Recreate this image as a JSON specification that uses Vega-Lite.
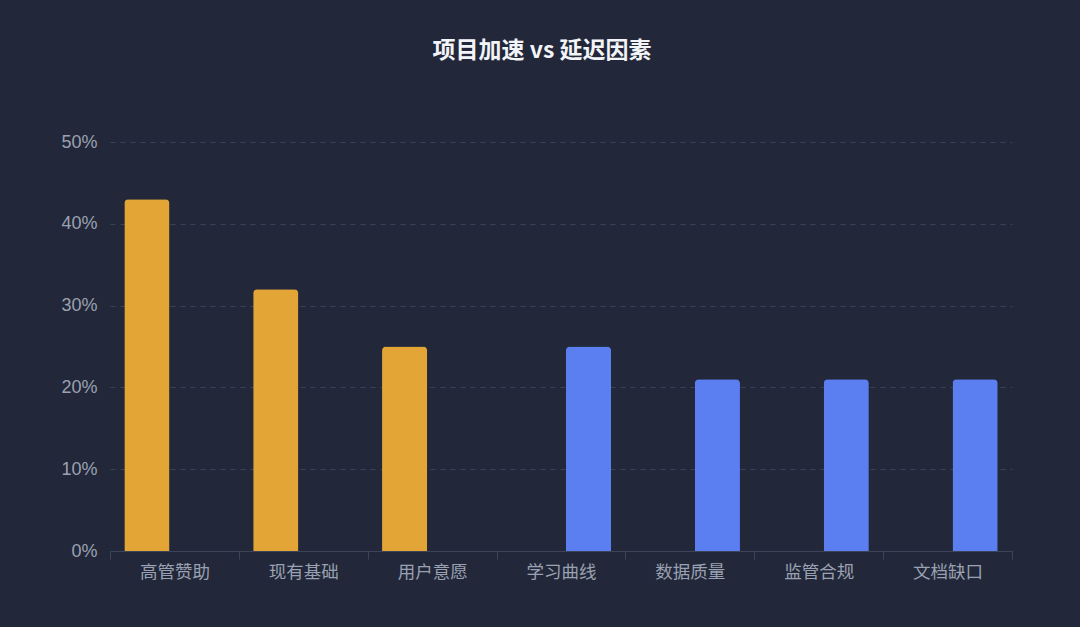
{
  "$schema": "https://vega.github.io/schema/vega-lite/v6.json",
  "width": 902,
  "height": 409,
  "autosize": "none",
  "padding": {"left": 110, "top": 142, "right": 68, "bottom": 76},
  "background": "#222839",
  "title": {
    "text": "项目加速 vs 延迟因素",
    "font": "Noto Sans CJK SC",
    "fontSize": 23,
    "fontWeight": "bold",
    "color": "#f2f4f8",
    "anchor": "middle",
    "dx": -19,
    "offset": 70
  },
  "data": {
    "values": [
      {"factor": "高管赞助", "type": "加速", "value": 0.43},
      {"factor": "现有基础", "type": "加速", "value": 0.32},
      {"factor": "用户意愿", "type": "加速", "value": 0.25},
      {"factor": "学习曲线", "type": "延迟", "value": 0.25},
      {"factor": "数据质量", "type": "延迟", "value": 0.21},
      {"factor": "监管合规", "type": "延迟", "value": 0.21},
      {"factor": "文档缺口", "type": "延迟", "value": 0.21}
    ]
  },
  "mark": {"type": "bar", "cornerRadiusTopLeft": 4, "cornerRadiusTopRight": 4},
  "encoding": {
    "x": {
      "field": "factor",
      "type": "nominal",
      "sort": null,
      "scale": {"paddingInner": 0, "paddingOuter": 0},
      "axis": {
        "title": null,
        "labelAngle": 0,
        "labelFont": "Noto Sans CJK SC",
        "labelFontSize": 17.5,
        "labelColor": "#9aa1b2",
        "labelPadding": 4,
        "domainColor": "#3d4458",
        "tickColor": "#3d4458",
        "tickSize": 8,
        "tickBand": "extent",
        "grid": false
      }
    },
    "xOffset": {
      "field": "type",
      "type": "nominal",
      "scale": {"domain": ["加速", "延迟"], "paddingInner": 0.18, "paddingOuter": 0.26}
    },
    "y": {
      "field": "value",
      "type": "quantitative",
      "scale": {"domain": [0, 0.5]},
      "axis": {
        "title": null,
        "format": ".0%",
        "values": [0, 0.1, 0.2, 0.3, 0.4, 0.5],
        "labelFont": "Liberation Sans",
        "labelFontSize": 18,
        "labelColor": "#9aa1b2",
        "labelPadding": 13,
        "domain": false,
        "ticks": false,
        "gridColor": "#3a4257",
        "gridDash": [5, 5],
        "gridWidth": 1
      }
    },
    "color": {
      "field": "type",
      "type": "nominal",
      "scale": {"domain": ["加速", "延迟"], "range": ["#e3a535", "#5b7ef0"]},
      "legend": null
    }
  },
  "config": {"view": {"stroke": null}}
}
